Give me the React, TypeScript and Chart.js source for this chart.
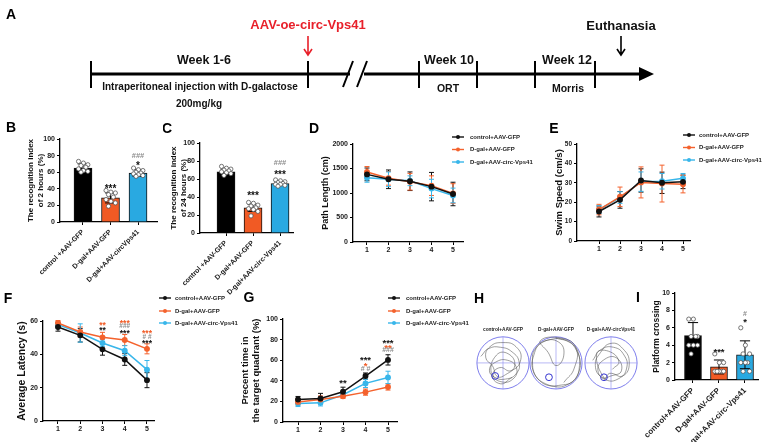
import React, { useEffect, useRef } from 'react';
import { Chart, registerables } from 'chart.js';

Chart.register(...registerables);

const FONT = "'Liberation Sans', Arial, Helvetica, sans-serif";
Chart.defaults.font.family = FONT;
Chart.defaults.color = '#1a1a1a';

// ---------------- data ----------------
const barGroupsB = ['control +AAV-GFP', 'D-gal+AAV-GFP', 'D-gal+AAV-circVps41'];
const barMeansB = [65, 29, 59];
const barSdB = [5, 6, 4];
const dotsB = [
  [73, 71, 69, 68, 66, 64, 62, 61, 60],
  [38, 36, 35, 33, 30, 27, 25, 23, 19],
  [65, 63, 62, 60, 59, 58, 57, 56, 55],
];

const barGroupsC = ['control +AAV-GFP', 'D-gal+AAV-GFP', 'D-gal+AAV-circ-Vps41'];
const barMeansC = [68, 28, 55];
const barSdC = [3, 4, 2];
const dotsC = [
  [74, 72, 71, 70, 69, 68, 67, 66, 64],
  [34, 33, 31, 30, 28, 27, 26, 24, 19],
  [59, 58, 57, 56, 55, 54, 54, 53, 52],
];

const barGroupsI = ['control+AAV-GFP', 'D-gal+AAV-GFP', 'D-gal+AAV-circ-Vps41'];
const barMeansI = [5.1, 1.5, 2.9];
const barSdI = [1.5, 0.8, 1.6];
const dotsI = [
  [7, 7, 5, 5, 5, 4, 4, 4, 3],
  [3, 2, 2, 1, 1, 1, 1, 1, 1],
  [6, 4, 3, 3, 2, 2, 2, 1, 1],
];

const days = [1, 2, 3, 4, 5];
const seriesLabels = ['control+AAV-GFP', 'D-gal+AAV-GFP', 'D-gal+AAV-circ-Vps41'];

const pathControl = [1380, 1280, 1240, 1130, 980];
const pathControlErr = [130, 190, 190, 290, 240];
const pathDgal = [1430, 1300, 1230, 1150, 990];
const pathDgalErr = [110, 140, 170, 200, 200];
const pathCirc = [1310, 1280, 1250, 1090, 950];
const pathCircErr = [90, 150, 100, 190, 150];

const speedControl = [15.2, 21.2, 31.2, 30.0, 30.5];
const speedControlErr = [2.8, 4.3, 6, 5.5, 3.5];
const speedDgal = [16.2, 22.8, 30.2, 29.6, 29.3];
const speedDgalErr = [2.7, 5, 8, 9.5, 4.5];
const speedCirc = [16.2, 22.4, 30.6, 30.8, 32.3];
const speedCircErr = [2, 3, 5, 4, 2.5];

const latControl = [56.4, 51.4, 43, 36.9, 24.5];
const latControlErr = [2.5, 4, 3.5, 3.5, 4.5];
const latDgal = [58.8, 53.4, 50.2, 48.6, 43.3];
const latDgalErr = [1.5, 3, 3, 3.3, 3];
const latCirc = [57.8, 52.8, 46.8, 42.2, 30.8];
const latCircErr = [1.5, 5.5, 2, 3, 5.5];

const quadControl = [21.8, 22.8, 29.3, 44.6, 60.3];
const quadControlErr = [3, 5, 4.5, 3, 5];
const quadDgal = [19.5, 21.8, 25, 29, 34];
const quadDgalErr = [3, 3.5, 2, 3, 3];
const quadCirc = [18, 18.6, 26.5, 37.5, 43.3];
const quadCircErr = [3, 3, 2, 4, 6];

type Ann = { x: number; y: number; text: string; kind: 'k' | 'o' | 'g' };
const annB: Ann[] = [
  { x: 1, y: 43, text: '***', kind: 'k' },
  { x: 2, y: 80, text: '###', kind: 'g' },
  { x: 2, y: 71, text: '*', kind: 'k' },
];
const annC: Ann[] = [
  { x: 1, y: 44, text: '***', kind: 'k' },
  { x: 2, y: 79, text: '###', kind: 'g' },
  { x: 2, y: 68, text: '***', kind: 'k' },
];
const annI: Ann[] = [
  { x: 1, y: 3.5, text: '***', kind: 'k' },
  { x: 2, y: 7.7, text: '#', kind: 'g' },
  { x: 2, y: 6.9, text: '*', kind: 'k' },
];
const annF: Ann[] = [
  { x: 3, y: 59, text: '**', kind: 'o' },
  { x: 3, y: 56, text: '**', kind: 'k' },
  { x: 4, y: 60, text: '***', kind: 'o' },
  { x: 4, y: 57, text: '###', kind: 'g' },
  { x: 4, y: 53.8, text: '***', kind: 'k' },
  { x: 5, y: 53.8, text: '***', kind: 'o' },
  { x: 5, y: 50.8, text: '# #', kind: 'g' },
  { x: 5, y: 47.8, text: '***', kind: 'k' },
];
const annG: Ann[] = [
  { x: 3, y: 40, text: '**', kind: 'k' },
  { x: 4, y: 63, text: '***', kind: 'k' },
  { x: 4, y: 57, text: '*', kind: 'o' },
  { x: 4, y: 51.5, text: '# #', kind: 'g' },
  { x: 5, y: 79, text: '***', kind: 'k' },
  { x: 5, y: 74, text: '**', kind: 'o' },
  { x: 5, y: 70, text: '###', kind: 'g' },
];

// swim traces (unit circle, y up), hand-traced
const traceControl = [[-0.85, 0.25], [-0.55, 0.55], [-0.1, 0.6], [0.35, 0.42], [0.62, 0.02], [0.5, -0.42], [0.1, -0.62], [-0.32, -0.55], [-0.52, -0.28], [-0.3, 0.02], [0.18, 0.1], [0.52, -0.2], [0.38, -0.62], [-0.08, -0.72], [-0.38, -0.45], [-0.12, -0.18], [0.3, -0.3], [0.68, 0.12], [0.5, 0.62], [0.0, 0.78], [-0.5, 0.62], [-0.66, 0.2], [-0.4, -0.12], [-0.22, -0.52], [0.1, -0.45], [0.45, -0.1], [0.2, 0.35], [-0.25, 0.3], [-0.45, -0.4], [-0.1, -0.8], [0.35, -0.55]];
const traceDgal = [[0.0, 0.95], [0.6, 0.75], [0.9, 0.2], [0.85, -0.4], [0.5, -0.8], [-0.1, -0.9], [-0.7, -0.6], [-0.9, 0.0], [-0.75, 0.6], [-0.2, 0.9], [0.4, 0.85], [0.8, 0.45], [0.9, -0.1], [0.7, -0.65], [0.2, -0.85], [-0.4, -0.8], [-0.85, -0.35], [-0.85, 0.3], [-0.5, 0.8], [0.1, 0.8], [0.3, 0.3], [0.0, -0.1], [-0.3, 0.4], [-0.6, 0.85], [0.2, 0.95], [0.75, 0.6], [0.7, -0.2], [0.3, -0.75]];
const traceCirc = [[-0.7, 0.1], [-0.4, 0.5], [0.1, 0.6], [0.5, 0.3], [0.6, -0.2], [0.3, -0.6], [-0.2, -0.65], [-0.5, -0.3], [-0.3, 0.1], [0.2, 0.2], [0.4, -0.3], [0.0, -0.5], [-0.35, -0.55], [-0.6, -0.1], [-0.4, 0.4], [0.0, 0.75], [0.45, 0.55], [0.7, 0.0], [0.45, -0.5], [-0.05, -0.4], [-0.25, -0.6], [-0.55, 0.35], [-0.1, 0.45], [0.3, 0.05], [0.05, -0.25]];
const platformControl = [-0.3, -0.5];
const platformDgal = [-0.27, -0.55];
const platformCirc = [-0.27, -0.55];

// ---------------- styles ----------------
const BLACK = '#000000';
const ORANGE = '#F15A24';
const BLUE = '#29A9E1';
const LINE_COLORS = ['#111111', '#F4622D', '#38B6EA'];
const BAR_COLORS = [BLACK, ORANGE, BLUE];
const ANN_COLORS: Record<string, string> = { k: '#111', o: '#F15A24', g: '#8c8c8c' };
const RED = '#E8202A';
const bold = (s: number) => `bold ${s}px ${FONT}`;

type Rect = { l: number; t: number; w: number; h: number };
type Plot = { l: number; t: number; r: number; b: number };

function yAxis(rect: Rect, plot: Plot, o: { min: number; max: number; step: number; title: string | string[]; titleSize: number; titleX: number; tickSize: number }) {
  const lh = o.titleSize * 1.2;
  return {
    type: 'linear', position: 'left', min: o.min, max: o.max, bounds: 'data',
    ticks: { stepSize: o.step, font: { size: o.tickSize, weight: 'bold', family: FONT }, color: '#1a1a1a', padding: 2, callback: (v: number) => String(v) },
    grid: { display: true, drawOnChartArea: false, drawTicks: true, tickLength: 3, color: '#000', lineWidth: 1 },
    border: { display: true, color: '#000', width: 1.3 },
    title: { display: true, text: o.title, color: '#111', font: { size: o.titleSize, weight: 'bold', family: FONT, lineHeight: 1.2 }, padding: { top: o.titleX - rect.l - lh / 2, bottom: 0 } },
    afterFit: (s: any) => { s.width = plot.l - rect.l; },
  };
}

function xAxis(rect: Rect, plot: Plot, o: { min: number; max: number; values: number[]; tickSize: number; labels?: string[] }) {
  const rot = o.labels ? 45 : 0;
  return {
    type: 'linear', position: 'bottom', min: o.min, max: o.max, bounds: 'data', offset: false,
    afterBuildTicks: (s: any) => { s.ticks = o.values.map((v) => ({ value: v })); },
    ticks: {
      font: { size: o.tickSize, weight: 'bold', family: FONT }, color: '#1a1a1a', padding: o.labels ? 3 : 1, autoSkip: false,
      maxRotation: rot, minRotation: rot,
      callback: (v: number) => (o.labels ? o.labels[v] ?? '' : String(v)),
    },
    grid: { display: true, drawOnChartArea: false, drawTicks: true, tickLength: 3, color: '#000', lineWidth: 1, offset: false },
    border: { display: true, color: '#000', width: 1.3 },
    afterFit: (s: any) => { s.height = rect.t + rect.h - plot.b; },
  };
}

type Extras = {
  rect: Rect;
  letter?: { text: string; x: number; y: number };
  errors?: number[][];
  errorColors?: string[];
  cap?: number;
  errorsBefore?: boolean;
  dots?: number[][];
  dotSpread?: number;
  dotR?: number;
  annotations?: Ann[];
  starSize?: number;
  hashSize?: number;
  legend?: { x: number; textX: number; ys: number[]; size: number; items: { label: string; color: string }[] };
};

const DOT_COLS = [-0.55, 0.05, 0.6, -0.25, 0.35];

function makeExtras(e: Extras) {
  const drawErrors = (chart: any) => {
    if (!e.errors) return;
    const { ctx } = chart;
    const ys = chart.scales.y;
    chart.data.datasets.forEach((ds: any, i: number) => {
      const errs = e.errors![i];
      if (!errs) return;
      const meta = chart.getDatasetMeta(i);
      ctx.save();
      ctx.strokeStyle = e.errorColors ? e.errorColors[i] : ds.borderColor;
      ctx.lineWidth = 1;
      const c = e.cap ?? 3;
      meta.data.forEach((el: any, j: number) => {
        const v = ds.data[j].y;
        const x = el.x;
        const y1 = ys.getPixelForValue(v + errs[j]);
        const y2 = ys.getPixelForValue(v - errs[j]);
        ctx.beginPath();
        ctx.moveTo(x, y1); ctx.lineTo(x, y2);
        ctx.moveTo(x - c, y1); ctx.lineTo(x + c, y1);
        ctx.moveTo(x - c, y2); ctx.lineTo(x + c, y2);
        ctx.stroke();
      });
      ctx.restore();
    });
  };
  return {
    id: 'extras',
    beforeDatasetsDraw(chart: any) {
      if (e.errorsBefore) drawErrors(chart);
    },
    afterDatasetsDraw(chart: any) {
      const { ctx } = chart;
      const xs = chart.scales.x;
      const ys = chart.scales.y;
      const ox = e.rect.l;
      const oy = e.rect.t;
      if (!e.errorsBefore) drawErrors(chart);
      if (e.dots) {
        const meta = chart.getDatasetMeta(0);
        ctx.save();
        ctx.lineWidth = 0.8;
        ctx.strokeStyle = '#555';
        ctx.fillStyle = '#fff';
        e.dots.forEach((vals, j) => {
          const cx = meta.data[j].x;
          const sorted = [...vals].sort((a, b) => b - a);
          sorted.forEach((v, k) => {
            const x = cx + DOT_COLS[k % DOT_COLS.length] * (e.dotSpread ?? 8);
            const y = ys.getPixelForValue(v);
            ctx.beginPath();
            ctx.arc(x, y, e.dotR ?? 2.2, 0, Math.PI * 2);
            ctx.fill();
            ctx.stroke();
          });
        });
        ctx.restore();
      }
      if (e.annotations) {
        ctx.save();
        ctx.textAlign = 'center';
        ctx.textBaseline = 'alphabetic';
        e.annotations.forEach((a) => {
          const isStar = a.text.includes('*');
          const size = isStar ? e.starSize ?? 9 : e.hashSize ?? 7;
          ctx.font = bold(size);
          ctx.fillStyle = ANN_COLORS[a.kind];
          ctx.fillText(a.text, xs.getPixelForValue(a.x), ys.getPixelForValue(a.y) + (isStar ? 0.57 : 0.36) * size);
        });
        ctx.restore();
      }
      if (e.legend) {
        const L = e.legend;
        ctx.save();
        L.items.forEach((it, i) => {
          const y = L.ys[i] - oy;
          const x = L.x - ox;
          ctx.strokeStyle = it.color;
          ctx.lineWidth = 1.4;
          ctx.beginPath(); ctx.moveTo(x - 6, y); ctx.lineTo(x + 6, y); ctx.stroke();
          ctx.fillStyle = it.color;
          ctx.beginPath(); ctx.arc(x, y, 2, 0, Math.PI * 2); ctx.fill();
          ctx.fillStyle = '#222';
          ctx.font = bold(L.size);
          ctx.textAlign = 'left';
          ctx.textBaseline = 'middle';
          ctx.fillText(it.label, L.textX - ox, y);
        });
        ctx.restore();
      }
      if (e.letter) {
        ctx.save();
        ctx.font = bold(14);
        ctx.fillStyle = '#000';
        ctx.textAlign = 'center';
        ctx.textBaseline = 'middle';
        ctx.fillText(e.letter.text, e.letter.x - ox, e.letter.y - oy);
        ctx.restore();
      }
    },
  };
}

const baseOptions = (rect: Rect, plot: Plot) => ({
  responsive: true,
  maintainAspectRatio: false,
  animation: false,
  events: [],
  layout: { padding: { left: 0, top: plot.t - rect.t, right: rect.l + rect.w - plot.r, bottom: 0 } },
  plugins: { legend: { display: false }, tooltip: { enabled: false } },
});

type BarSpec = {
  rect: Rect; plot: Plot; xmin: number; xmax: number; groups: string[]; means: number[]; sds: number[]; dots: number[][];
  yMax: number; yStep: number; title: string | string[]; titleSize: number; titleX: number; labelSize: number;
  barThickness: number; letter: { text: string; x: number; y: number }; ann: Ann[]; starSize: number; hashSize: number;
};

function barConfig(s: BarSpec): any {
  return {
    type: 'bar',
    data: {
      datasets: [{
        data: s.means.map((m, i) => ({ x: i, y: m })),
        backgroundColor: BAR_COLORS, borderColor: '#111', borderWidth: 1, barThickness: s.barThickness,
      }],
    },
    options: {
      ...baseOptions(s.rect, s.plot),
      scales: {
        x: xAxis(s.rect, s.plot, { min: s.xmin, max: s.xmax, values: s.groups.map((_, i) => i), tickSize: s.labelSize, labels: s.groups }),
        y: yAxis(s.rect, s.plot, { min: 0, max: s.yMax, step: s.yStep, title: s.title, titleSize: s.titleSize, titleX: s.titleX, tickSize: 7 }),
      },
    },
    plugins: [makeExtras({
      rect: s.rect, letter: s.letter, errors: [s.sds], errorColors: ['#000'], cap: s.barThickness * 0.3,
      dots: s.dots, dotSpread: s.barThickness * 0.45, dotR: 2.1, annotations: s.ann, starSize: s.starSize, hashSize: s.hashSize,
    })],
  };
}

type LineSpec = {
  rect: Rect; plot: Plot; xmin: number; xmax: number; values: number[][]; errors: number[][];
  yMax: number; yStep: number; title: string | string[]; titleSize: number; titleX: number; tickSize?: number;
  letter: { text: string; x: number; y: number }; legend: { x: number; textX: number; ys: number[] };
  ann?: Ann[]; starSize?: number; hashSize?: number;
};

function lineConfig(s: LineSpec): any {
  return {
    type: 'line',
    data: {
      datasets: s.values.map((vals, k) => ({
        label: seriesLabels[k],
        data: days.map((d, i) => ({ x: d, y: vals[i] })),
        borderColor: LINE_COLORS[k], backgroundColor: LINE_COLORS[k],
        pointBackgroundColor: LINE_COLORS[k], pointBorderColor: LINE_COLORS[k],
        pointRadius: 2.2, borderWidth: 1.5, tension: 0, fill: false,
      })),
    },
    options: {
      ...baseOptions(s.rect, s.plot),
      scales: {
        x: xAxis(s.rect, s.plot, { min: s.xmin, max: s.xmax, values: days, tickSize: 7 }),
        y: yAxis(s.rect, s.plot, { min: 0, max: s.yMax, step: s.yStep, title: s.title, titleSize: s.titleSize, titleX: s.titleX, tickSize: s.tickSize ?? 7 }),
      },
    },
    plugins: [makeExtras({
      rect: s.rect, letter: s.letter, errors: s.errors, errorColors: LINE_COLORS, cap: 2.5, errorsBefore: true,
      annotations: s.ann, starSize: s.starSize, hashSize: s.hashSize,
      legend: { ...s.legend, size: 6, items: seriesLabels.map((l, k) => ({ label: l, color: LINE_COLORS[k] })) },
    })],
  };
}

// ---------------- panel A (timeline) ----------------
const timelineTicks = [91, 308, 419, 477, 535, 595];
const timelineTexts = [
  { text: 'AAV-oe-circ-Vps41', x: 308, y: 25, size: 13, color: RED },
  { text: 'Euthanasia', x: 621, y: 26, size: 13, color: '#111' },
  { text: 'Week 1-6', x: 204, y: 61, size: 12.5, color: '#111' },
  { text: 'Intraperitoneal injection with D-galactose', x: 200, y: 87, size: 10, color: '#111' },
  { text: '200mg/kg', x: 199, y: 104, size: 10, color: '#111' },
  { text: 'Week 10', x: 449, y: 61, size: 12.5, color: '#111' },
  { text: 'ORT', x: 448, y: 89, size: 10.5, color: '#111' },
  { text: 'Week 12', x: 567, y: 61, size: 12.5, color: '#111' },
  { text: 'Morris', x: 568, y: 89, size: 10.5, color: '#111' },
];

const timelinePlugin = {
  id: 'timeline',
  afterDatasetsDraw(chart: any) {
    const { ctx } = chart;
    const X = (v: number) => chart.scales.x.getPixelForValue(v);
    const Y = (v: number) => chart.scales.y.getPixelForValue(v);
    ctx.save();
    ctx.strokeStyle = '#000';
    ctx.fillStyle = '#000';
    ctx.lineWidth = 3;
    ctx.beginPath();
    ctx.moveTo(X(91), Y(74)); ctx.lineTo(X(350), Y(74));
    ctx.moveTo(X(364), Y(74)); ctx.lineTo(X(642), Y(74));
    ctx.stroke();
    ctx.beginPath();
    ctx.moveTo(X(639), Y(67)); ctx.lineTo(X(654), Y(74)); ctx.lineTo(X(639), Y(81)); ctx.closePath();
    ctx.fill();
    ctx.lineWidth = 2;
    ctx.beginPath();
    timelineTicks.forEach((t) => { ctx.moveTo(X(t), Y(61)); ctx.lineTo(X(t), Y(88)); });
    ctx.moveTo(X(343), Y(87)); ctx.lineTo(X(353), Y(61));
    ctx.moveTo(X(357), Y(87)); ctx.lineTo(X(367), Y(61));
    ctx.stroke();
    const arrow = (x: number, color: string) => {
      ctx.strokeStyle = color;
      ctx.lineWidth = 1.6;
      ctx.beginPath();
      ctx.moveTo(X(x), Y(36)); ctx.lineTo(X(x), Y(55));
      ctx.moveTo(X(x - 4), Y(49)); ctx.lineTo(X(x), Y(55)); ctx.lineTo(X(x + 4), Y(49));
      ctx.stroke();
    };
    arrow(308, RED);
    arrow(621, '#000');
    ctx.textAlign = 'center';
    ctx.textBaseline = 'middle';
    timelineTexts.forEach((t) => {
      ctx.font = bold(t.size);
      ctx.fillStyle = t.color;
      ctx.fillText(t.text, X(t.x), Y(t.y));
    });
    ctx.font = bold(14);
    ctx.fillStyle = '#000';
    ctx.fillText('A', X(11), Y(15));
    ctx.restore();
  },
};

function timelineConfig(): any {
  return {
    type: 'scatter',
    data: { datasets: [] },
    options: {
      responsive: true, maintainAspectRatio: false, animation: false, events: [],
      layout: { padding: 0 },
      plugins: { legend: { display: false }, tooltip: { enabled: false } },
      scales: {
        x: { type: 'linear', display: false, min: 0, max: 767 },
        y: { type: 'linear', display: false, min: 0, max: 112, reverse: true },
      },
    },
    plugins: [timelinePlugin],
  };
}

// ---------------- panel H (swim paths) ----------------
function mazePlugin(label: string, platform: number[]) {
  return {
    id: 'maze',
    beforeDatasetsDraw(chart: any) {
      const { ctx } = chart;
      const xs = chart.scales.x;
      const ys = chart.scales.y;
      const cx = xs.getPixelForValue(0);
      const cy = ys.getPixelForValue(0);
      const r = xs.getPixelForValue(1) - cx;
      ctx.save();
      ctx.strokeStyle = '#7070ea';
      ctx.lineWidth = 0.9;
      ctx.beginPath(); ctx.arc(cx, cy, r, 0, Math.PI * 2); ctx.stroke();
      ctx.lineWidth = 0.6;
      ctx.strokeStyle = '#8a8af0';
      ctx.beginPath();
      ctx.moveTo(cx - r, cy); ctx.lineTo(cx + r, cy);
      ctx.moveTo(cx, cy - r); ctx.lineTo(cx, cy + r);
      ctx.stroke();
      ctx.restore();
    },
    afterDatasetsDraw(chart: any) {
      const { ctx } = chart;
      const xs = chart.scales.x;
      const ys = chart.scales.y;
      const r = xs.getPixelForValue(0.13) - xs.getPixelForValue(0);
      ctx.save();
      ctx.strokeStyle = '#3434d0';
      ctx.lineWidth = 1;
      ctx.beginPath();
      ctx.arc(xs.getPixelForValue(platform[0]), ys.getPixelForValue(platform[1]), r, 0, Math.PI * 2);
      ctx.stroke();
      ctx.font = bold(4.8);
      ctx.fillStyle = '#222';
      ctx.textAlign = 'center';
      ctx.textBaseline = 'middle';
      ctx.fillText(label, xs.getPixelForValue(0), ys.getPixelForValue(1.26));
      ctx.restore();
    },
  };
}

function mazeConfig(trace: number[][], label: string, platform: number[]): any {
  return {
    type: 'line',
    data: {
      datasets: [{
        data: trace.map(([x, y]) => ({ x, y })),
        borderColor: 'rgba(80,80,80,0.85)', borderWidth: 0.65, pointRadius: 0, tension: 0.5, fill: false,
      }],
    },
    options: {
      responsive: true, maintainAspectRatio: false, animation: false, events: [],
      layout: { padding: 0 },
      plugins: { legend: { display: false }, tooltip: { enabled: false } },
      scales: {
        x: { type: 'linear', display: false, min: -1.15, max: 1.15 },
        y: { type: 'linear', display: false, min: -1.5, max: 1.57 },
      },
    },
    plugins: [mazePlugin(label, platform)],
  };
}

function letterConfig(text: string): any {
  return {
    type: 'scatter',
    data: { datasets: [] },
    options: {
      responsive: true, maintainAspectRatio: false, animation: false, events: [],
      plugins: { legend: { display: false }, tooltip: { enabled: false } },
      scales: { x: { display: false }, y: { display: false } },
    },
    plugins: [{
      id: 'letter',
      afterDraw(chart: any) {
        const { ctx } = chart;
        ctx.save();
        ctx.font = bold(14);
        ctx.fillStyle = '#000';
        ctx.textAlign = 'center';
        ctx.textBaseline = 'middle';
        ctx.fillText(text, chart.width / 2, chart.height / 2);
        ctx.restore();
      },
    }],
  };
}

// ---------------- panel specs ----------------
const rectB: Rect = { l: 0, t: 118, w: 163, h: 180 };
const plotB: Plot = { l: 60, t: 139, r: 157, b: 222 };
const rectC: Rect = { l: 163, t: 118, w: 137, h: 187 };
const plotC: Plot = { l: 200, t: 143, r: 293, b: 233 };
const rectI: Rect = { l: 628, t: 280, w: 139, h: 162 };
const plotI: Plot = { l: 675, t: 293, r: 758, b: 380 };
const rectD: Rect = { l: 305, t: 118, w: 240, h: 144 };
const plotD: Plot = { l: 353, t: 144, r: 463, b: 242 };
const rectE: Rect = { l: 545, t: 118, w: 222, h: 144 };
const plotE: Plot = { l: 577, t: 144, r: 690, b: 241 };
const rectF: Rect = { l: 0, t: 285, w: 240, h: 157 };
const plotF: Plot = { l: 43, t: 321, r: 154, b: 421 };
const rectG: Rect = { l: 236, t: 285, w: 236, h: 157 };
const plotG: Plot = { l: 283, t: 319, r: 397, b: 422 };

const panels: { rect: Rect; make: () => any }[] = [
  { rect: { l: 0, t: 0, w: 767, h: 112 }, make: timelineConfig },
  {
    rect: rectB,
    make: () => barConfig({
      rect: rectB, plot: plotB, xmin: -0.836, xmax: 2.69, groups: barGroupsB, means: barMeansB, sds: barSdB, dots: dotsB,
      yMax: 100, yStep: 20, title: ['The recognition index', 'of 2 hours (%)'], titleSize: 8, titleX: 31, labelSize: 7,
      barThickness: 18, letter: { text: 'B', x: 11, y: 128 }, ann: annB, starSize: 10, hashSize: 7.5,
    }),
  },
  {
    rect: rectC,
    make: () => barConfig({
      rect: rectC, plot: plotC, xmin: -0.963, xmax: 2.48, groups: barGroupsC, means: barMeansC, sds: barSdC, dots: dotsC,
      yMax: 100, yStep: 20, title: ['The recognition index', 'of 24 hours (%)'], titleSize: 8, titleX: 174, labelSize: 7,
      barThickness: 18, letter: { text: 'C', x: 167, y: 129 }, ann: annC, starSize: 10, hashSize: 7.5,
    }),
  },
  {
    rect: rectD,
    make: () => lineConfig({
      rect: rectD, plot: plotD, xmin: 0.349, xmax: 5.465, values: [pathControl, pathDgal, pathCirc], errors: [pathControlErr, pathDgalErr, pathCircErr],
      yMax: 2000, yStep: 500, title: 'Path Length (cm)', titleSize: 9, titleX: 326,
      letter: { text: 'D', x: 314, y: 129 }, legend: { x: 458, textX: 470, ys: [137, 149.5, 162] },
    }),
  },
  {
    rect: rectE,
    make: () => lineConfig({
      rect: rectE, plot: plotE, xmin: -0.048, xmax: 5.333, values: [speedControl, speedDgal, speedCirc], errors: [speedControlErr, speedDgalErr, speedCircErr],
      yMax: 50, yStep: 10, title: 'Swim Speed (cm/s)', titleSize: 9.5, titleX: 559, tickSize: 6.5,
      letter: { text: 'E', x: 554, y: 129 }, legend: { x: 689, textX: 699, ys: [135, 147.5, 160] },
    }),
  },
  {
    rect: rectF,
    make: () => lineConfig({
      rect: rectF, plot: plotF, xmin: 0.326, xmax: 5.315, values: [latControl, latDgal, latCirc], errors: [latControlErr, latDgalErr, latCircErr],
      yMax: 60, yStep: 20, title: 'Average Latency (s)', titleSize: 10.5, titleX: 22,
      letter: { text: 'F', x: 8, y: 299 }, legend: { x: 165, textX: 175, ys: [298, 311, 323] },
      ann: annF, starSize: 8.5, hashSize: 6.5,
    }),
  },
  {
    rect: rectG,
    make: () => lineConfig({
      rect: rectG, plot: plotG, xmin: 0.333, xmax: 5.4, values: [quadControl, quadDgal, quadCirc], errors: [quadControlErr, quadDgalErr, quadCircErr],
      yMax: 100, yStep: 20, title: ['Precent time in', 'the target quadrant (%)'], titleSize: 9.5, titleX: 245,
      letter: { text: 'G', x: 249, y: 298 }, legend: { x: 394, textX: 406, ys: [298, 311, 323] },
      ann: annG, starSize: 9.5, hashSize: 7,
    }),
  },
  { rect: { l: 470, t: 290, w: 18, h: 18 }, make: () => letterConfig('H') },
  { rect: { l: 473, t: 322, w: 60, h: 80 }, make: () => mazeConfig(traceControl, 'control+AAV-GFP', platformControl) },
  { rect: { l: 526, t: 322, w: 60, h: 80 }, make: () => mazeConfig(traceDgal, 'D-gal+AAV-GFP', platformDgal) },
  { rect: { l: 581, t: 322, w: 60, h: 80 }, make: () => mazeConfig(traceCirc, 'D-gal+AAV-circVps41', platformCirc) },
  {
    rect: rectI,
    make: () => barConfig({
      rect: rectI, plot: plotI, xmin: -0.692, xmax: 2.5, groups: barGroupsI, means: barMeansI, sds: barSdI, dots: dotsI,
      yMax: 10, yStep: 2, title: 'Platform crossing', titleSize: 8.5, titleX: 657, labelSize: 8,
      barThickness: 17, letter: { text: 'I', x: 638, y: 298 }, ann: annI, starSize: 9.5, hashSize: 7,
    }),
  },
];

function ChartBox({ rect, make }: { rect: Rect; make: () => any }) {
  const ref = useRef<HTMLCanvasElement>(null);
  useEffect(() => {
    const chart = new Chart(ref.current as HTMLCanvasElement, make());
    return () => chart.destroy();
  }, []);
  return (
    <div style={{ position: 'absolute', left: rect.l, top: rect.t, width: rect.w, height: rect.h }}>
      <canvas ref={ref} />
    </div>
  );
}

export default function App() {
  return (
    <div style={{ position: 'fixed', left: 0, top: 0, width: 767, height: 442, background: '#fff', overflow: 'hidden' }}>
      {panels.map((p, i) => (
        <ChartBox key={i} rect={p.rect} make={p.make} />
      ))}
    </div>
  );
}
